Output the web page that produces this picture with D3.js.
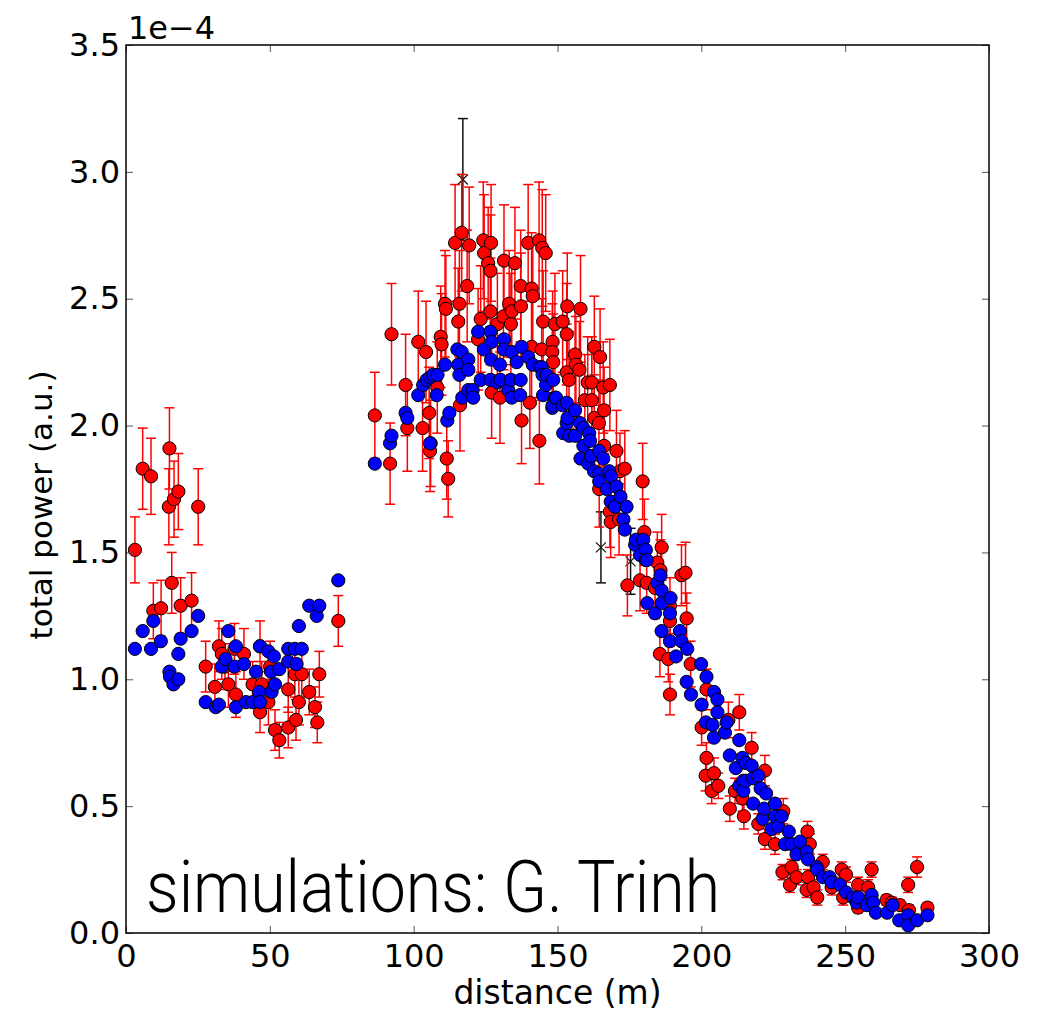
<!DOCTYPE html>
<html>
<head>
<meta charset="utf-8">
<script src="https://d3js.org/d3.v7.min.js"></script>
<style>
  body { margin: 0; background: #fff; }
  text { font-family: "DejaVu Sans", sans-serif; }
</style>
</head>
<body>
<svg></svg>
<script>
// values in units of 1e-4 ; red = [distance, power, error]
const redPoints = [
  [3.1,1.51,0.13],[5.8,1.83,0.16],[8.7,1.80,0.15],[9.5,1.27,0.11],[12.2,1.28,0.11],
  [14.9,1.68,0.15],[15.1,1.91,0.16],[15.9,1.38,0.12],[16.7,1.71,0.15],[18.2,1.74,0.15],
  [19.0,1.29,0.11],[22.8,1.31,0.11],[25.1,1.68,0.15],[27.7,1.05,0.10],[30.9,0.97,0.09],
  [32.3,1.13,0.10],[33.3,1.10,0.10],[34.4,1.05,0.09],[35.6,0.98,0.09],[37.7,1.12,0.10],
  [38.2,0.94,0.09],[41.0,1.10,0.10],[44.0,0.98,0.09],[46.6,1.13,0.10],[47.2,0.98,0.09],
  [46.6,0.87,0.08],[49.5,0.91,0.09],[50.1,1.05,0.10],[51.8,0.80,0.08],[53.3,0.76,0.07],
  [56.4,0.81,0.08],[56.4,0.96,0.09],[58.7,1.02,0.09],[59.1,0.84,0.08],[60.1,0.91,0.09],
  [61.1,1.02,0.09],[63.7,0.95,0.09],[65.7,0.89,0.08],[66.5,0.83,0.08],[67.2,1.02,0.09],
  [73.8,1.23,0.10],
  [86.5,2.04,0.17],[91.8,1.85,0.16],[92.3,2.36,0.20],[97.2,2.16,0.20],[97.8,1.99,0.17],
  [101.6,2.33,0.20],[103.1,1.99,0.17],[104.3,2.29,0.20],[105.4,2.05,0.18],[105.7,1.90,0.16],
  [105.9,1.93,0.17],[108.2,2.15,0.18],[109.4,2.35,0.20],[109.7,2.32,0.20],[110.9,2.48,0.21],
  [111.2,2.46,0.21],[111.5,1.87,0.16],[112.0,1.79,0.15],[114.4,2.72,0.23],[115.5,2.41,0.21],
  [115.9,2.48,0.21],[116.1,2.08,0.18],[116.7,2.76,0.23],[118.6,2.55,0.22],[119.3,2.71,0.23],
  [122.4,2.34,0.20],[123.3,2.42,0.21],[124.2,2.73,0.23],[124.5,2.68,0.23],[125.9,2.64,0.22],
  [126.7,2.61,0.22],[126.7,2.45,0.21],[126.9,2.72,0.23],[127.1,2.13,0.18],[129.1,2.40,0.20],
  [130.0,2.11,0.18],[131.2,2.43,0.21],[131.4,2.65,0.22],[133.2,2.48,0.21],[133.8,2.40,0.20],
  [134.1,2.45,0.21],[135.2,2.64,0.22],[137.2,2.55,0.22],[137.3,2.47,0.21],[137.5,2.02,0.17],
  [139.8,2.72,0.23],[140.4,2.09,0.18],[141.0,2.54,0.22],[141.0,2.31,0.20],[141.4,2.51,0.21],
  [143.6,2.73,0.23],[143.7,1.94,0.17],[144.5,2.30,0.20],[144.7,2.70,0.23],[145.0,2.41,0.20],
  [145.9,2.68,0.23],[148.3,2.33,0.20],[148.2,2.29,0.19],[148.5,2.25,0.19],[149.1,2.40,0.20],
  [151.8,2.41,0.20],[153.2,2.36,0.20],[153.4,2.47,0.21],[153.2,2.21,0.19],[154.0,2.18,0.19],
  [156.1,2.28,0.19],[156.4,2.24,0.19],[157.6,2.22,0.19],[158.0,2.46,0.21],[159.5,2.10,0.18],
  [160.5,2.17,0.18],[161.9,2.17,0.18],[161.9,2.10,0.18],[162.8,2.31,0.20],[162.8,2.03,0.17],
  [164.4,2.01,0.17],[164.5,1.75,0.15],[164.8,2.27,0.19],[165.9,2.15,0.18],[166.2,2.06,0.17],
  [166.2,1.92,0.16],[168.2,2.16,0.18],[168.2,1.66,0.14],[168.5,1.62,0.14],[170.5,1.90,0.16],
  [171.4,1.63,0.14],[171.7,1.82,0.15],[173.4,1.83,0.15],[174.3,1.37,0.12],[178.7,1.39,0.12],
  [179.6,1.78,0.15],[180.2,1.58,0.13],[181.0,1.38,0.12],[183.9,1.36,0.12],[184.7,1.46,0.12],
  [185.6,1.10,0.09],[185.8,1.43,0.12],[186.2,1.52,0.13],[188.5,1.08,0.09],[189.1,1.29,0.11],
  [189.1,1.23,0.10],[189.1,0.94,0.08],[193.1,1.41,0.12],[194.5,1.42,0.12],[194.9,1.24,0.10],
  [196.3,1.06,0.09],[200.1,0.81,0.07],[201.5,0.62,0.06],[201.8,0.96,0.08],[201.8,0.69,0.06],
  [203.6,0.56,0.05],[204.4,0.63,0.06],[205.9,0.58,0.05],[209.4,0.84,0.07],[209.9,0.49,0.05],
  [211.7,0.56,0.05],[213.2,0.87,0.07],[214.3,0.53,0.05],[214.8,0.46,0.05],[217.5,0.73,0.06],
  [219.8,0.43,0.04],[222.1,0.64,0.06],[222.1,0.37,0.04],[225.6,0.35,0.04],[228.2,0.24,0.03],
  [228.5,0.48,0.05],[230.8,0.19,0.03],[231.4,0.26,0.03],[233.1,0.22,0.03],[236.6,0.17,0.03],
  [236.9,0.40,0.04],[237.1,0.22,0.03],[237.7,0.35,0.04],[239.0,0.18,0.03],[240.3,0.14,0.03],
  [242.2,0.28,0.03],[245.3,0.18,0.03],[248.8,0.25,0.03],[249.3,0.14,0.03],[250.3,0.23,0.03],
  [254.5,0.19,0.03],[254.5,0.10,0.02],[258.0,0.18,0.03],[259.2,0.25,0.03],[264.4,0.13,0.02],
  [266.2,0.12,0.02],[269.0,0.11,0.02],[271.9,0.19,0.03],[272.2,0.09,0.02],[275.0,0.26,0.04],
  [278.6,0.10,0.02]
];

const bluePoints = [
  [3.1,1.12],[5.8,1.19],[8.7,1.12],[9.5,1.23],[12.1,1.15],[15.1,1.03],[15.3,1.01],[16.5,0.98],
  [18.2,1.00],[18.2,1.10],[19.0,1.16],[22.8,1.19],[25.1,1.25],[27.7,0.91],[31.2,0.89],[32.3,0.90],
  [33.3,1.05],[34.6,1.08],[35.6,1.19],[37.7,1.05],[38.2,1.13],[38.2,0.89],[41.0,1.06],[41.7,0.91],
  [44.0,0.91],[45.2,1.03],[46.3,0.95],[46.6,1.13],[46.6,0.91],[49.5,1.11],[50.4,1.03],[50.6,0.95],
  [51.4,1.09],[51.8,0.98],[53.3,1.04],[56.4,1.12],[56.4,1.07],[58.7,1.12],[59.3,1.06],[60.1,1.21],
  [61.1,1.12],[63.7,1.29],[66.3,1.25],[67.2,1.29],[73.8,1.39],
  [86.5,1.85],[91.8,1.93],[92.3,1.96],[97.2,2.05],[97.8,2.03],[101.6,2.12],[103.3,2.16],[104.5,2.18],
  [105.7,2.19],[105.7,1.93],[106.8,2.20],[108.0,2.12],[108.3,2.20],[110.9,2.24],[111.7,2.02],[112.4,2.05],
  [115.2,2.30],[115.5,2.24],[115.9,2.20],[116.7,2.29],[116.9,2.11],[119.0,2.26],[119.0,2.22],[119.0,2.14],
  [120.5,2.14],[120.7,2.11],[122.4,2.37],[123.3,2.18],[124.4,2.30],[126.7,2.37],[126.7,2.18],[126.9,2.26],
  [127.1,2.33],[129.1,2.17],[130.0,2.24],[130.2,2.18],[131.4,2.34],[131.4,2.30],[132.9,2.14],[133.8,2.18],
  [134.1,2.29],[134.1,2.11],[135.8,2.25],[137.0,2.12],[137.2,2.18],[137.5,2.31],[139.8,2.27],[141.4,2.24],
  [143.9,2.23],[144.5,2.23],[144.8,2.20],[145.0,2.12],[146.0,2.16],[146.2,2.20],[148.2,2.07],[148.3,2.08],
  [148.5,2.18],[149.1,2.11],[149.5,2.11],[151.8,2.08],[152.0,1.97],[153.2,2.09],[153.2,2.01],[153.5,2.03],
  [154.1,1.96],[156.1,2.06],[156.1,1.96],[157.8,2.01],[158.0,1.87],[159.0,1.99],[159.0,1.92],[160.7,1.85],
  [161.0,1.97],[161.3,1.94],[161.6,1.88],[162.7,1.82],[164.5,1.90],[164.5,1.81],[164.5,1.78],[165.9,1.87],
  [167.1,1.75],[168.0,1.82],[168.5,1.70],[168.6,1.80],[170.0,1.68],[170.5,1.76],[171.9,1.72],[172.9,1.63],
  [173.4,1.59],[174.0,1.68],[177.0,1.53],[177.3,1.55],[178.7,1.49],[179.8,1.55],[180.7,1.51],[180.7,1.47],
  [181.0,1.47],[181.2,1.30],[183.9,1.26],[184.7,1.38],[185.8,1.41],[186.2,1.35],[186.2,1.30],[186.2,1.19],
  [189.1,1.26],[189.1,1.15],[189.3,1.32],[191.2,1.09],[192.6,1.19],[193.1,1.15],[194.9,0.99],[195.1,1.12],
  [196.4,0.94],[199.9,1.06],[200.1,0.90],[201.6,0.83],[201.8,1.01],[203.9,0.82],[204.4,0.95],[204.4,0.77],
  [205.6,0.92],[205.6,0.87],[208.2,0.79],[208.8,0.83],[209.9,0.70],[212.0,0.65],[213.2,0.76],[213.2,0.58],
  [214.3,0.69],[214.6,0.60],[214.6,0.56],[215.5,0.67],[215.5,0.60],[217.5,0.66],[218.0,0.61],[218.0,0.51],
  [219.8,0.62],[220.6,0.57],[221.3,0.45],[221.8,0.49],[222.5,0.55],[224.4,0.41],[225.6,0.51],[225.6,0.46],
  [226.7,0.42],[227.9,0.46],[229.1,0.35],[230.4,0.40],[231.4,0.35],[233.1,0.31],[234.3,0.36],[236.6,0.32],
  [237.1,0.29],[240.1,0.26],[240.3,0.25],[242.3,0.22],[244.6,0.22],[245.3,0.20],[248.2,0.19],[250.3,0.16],
  [252.8,0.14],[254.0,0.12],[254.5,0.14],[257.5,0.11],[259.2,0.15],[259.7,0.12],[260.7,0.08],[264.6,0.08],
  [266.5,0.11],[268.8,0.05],[271.9,0.07],[271.9,0.03],[275.0,0.05],[278.6,0.07]
];

// black 'x' markers with error bars
const blackPoints = [[117.1,2.97,0.24],[165.1,1.52,0.14],[175.4,1.465,0.13]];

const xTicks = [0, 50, 100, 150, 200, 250, 300];
const yTicks = [0, 0.5, 1.0, 1.5, 2.0, 2.5, 3.0, 3.5];

const width = 1052;
const height = 1011;
const plotLeft = 126;
const plotRight = 989;
const plotTop = 45;
const plotBottom = 933;

const svg = d3.select("svg").attr("width", width).attr("height", height);

const xScale = d3.scaleLinear().domain([0, 300]).range([plotLeft, plotRight]);
const yScale = d3.scaleLinear().domain([0, 3.5]).range([plotBottom, plotTop]);

const drawErrorBars = (g, data, color, cap) => {
  const bars = g.selectAll(null).data(data).enter().append("g")
    .attr("stroke", color).attr("stroke-width", 1.5);
  bars.append("line")
    .attr("x1", (d) => xScale(d[0])).attr("x2", (d) => xScale(d[0]))
    .attr("y1", (d) => yScale(d[1] - d[2])).attr("y2", (d) => yScale(d[1] + d[2]));
  bars.append("line")
    .attr("x1", (d) => xScale(d[0]) - cap).attr("x2", (d) => xScale(d[0]) + cap)
    .attr("y1", (d) => yScale(d[1] + d[2])).attr("y2", (d) => yScale(d[1] + d[2]));
  bars.append("line")
    .attr("x1", (d) => xScale(d[0]) - cap).attr("x2", (d) => xScale(d[0]) + cap)
    .attr("y1", (d) => yScale(d[1] - d[2])).attr("y2", (d) => yScale(d[1] - d[2]));
};

const plot = svg.append("g");

// black reference points
drawErrorBars(plot, blackPoints, "#111", 5);
plot.selectAll(".xmark").data(blackPoints).enter().append("path")
  .attr("class", "xmark")
  .attr("d", (d) => {
    const cx = xScale(d[0]), cy = yScale(d[1]), s = 5;
    return `M${cx - s},${cy - s}L${cx + s},${cy + s}M${cx - s},${cy + s}L${cx + s},${cy - s}`;
  })
  .attr("stroke", "#111").attr("stroke-width", 1.2);

// red with error bars
drawErrorBars(plot, redPoints, "#ff0000", 5);
plot.selectAll(".red").data(redPoints).enter().append("circle")
  .attr("class", "red")
  .attr("cx", (d) => xScale(d[0])).attr("cy", (d) => yScale(d[1]))
  .attr("r", 6.6).attr("fill", "#ff0000").attr("stroke", "#000").attr("stroke-width", 1);

// blue
plot.selectAll(".blue").data(bluePoints).enter().append("circle")
  .attr("class", "blue")
  .attr("cx", (d) => xScale(d[0])).attr("cy", (d) => yScale(d[1]))
  .attr("r", 6.6).attr("fill", "#0000ff").attr("stroke", "#000").attr("stroke-width", 1);

// axes with inward ticks on all four sides
const styleAxis = (g) => {
  g.select(".domain").remove();
  g.selectAll(".tick line").attr("stroke", "#555").attr("stroke-width", 1);
  g.selectAll(".tick text").attr("font-size", 32).attr("fill", "#000")
    .attr("font-family", "DejaVu Sans, sans-serif");
};

svg.append("g")
  .attr("transform", `translate(0, ${plotBottom})`)
  .call(d3.axisBottom(xScale).tickValues(xTicks).tickFormat(d3.format("d"))
    .tickSizeInner(-7).tickSizeOuter(0).tickPadding(11))
  .call(styleAxis);

svg.append("g")
  .attr("transform", `translate(0, ${plotTop})`)
  .call(d3.axisTop(xScale).tickValues(xTicks).tickFormat("")
    .tickSizeInner(-7).tickSizeOuter(0))
  .call(styleAxis);

svg.append("g")
  .attr("transform", `translate(${plotLeft}, 0)`)
  .call(d3.axisLeft(yScale).tickValues(yTicks).tickFormat(d3.format(".1f"))
    .tickSizeInner(-7).tickSizeOuter(0).tickPadding(6))
  .call(styleAxis);

svg.append("g")
  .attr("transform", `translate(${plotRight}, 0)`)
  .call(d3.axisRight(yScale).tickValues(yTicks).tickFormat("")
    .tickSizeInner(-7).tickSizeOuter(0))
  .call(styleAxis);

// frame
svg.append("rect")
  .attr("x", plotLeft).attr("y", plotTop)
  .attr("width", plotRight - plotLeft).attr("height", plotBottom - plotTop)
  .attr("fill", "none").attr("stroke", "#000").attr("stroke-width", 1.5);

// labels
svg.append("text")
  .attr("x", 128).attr("y", 39)
  .attr("font-size", 32)
  .text("1e\u22124");

svg.append("text")
  .attr("x", (plotLeft + plotRight) / 2).attr("y", 1004)
  .attr("text-anchor", "middle")
  .attr("font-size", 33)
  .text("distance (m)");

svg.append("text")
  .attr("transform", "translate(52, 505) rotate(-90)")
  .attr("text-anchor", "middle")
  .attr("font-size", 31)
  .text("total power (a.u.)");

svg.append("text")
  .attr("x", 146).attr("y", 912)
  .attr("font-size", 72)
  .attr("font-weight", 300)
  .style("font-family", "Roboto, 'Liberation Sans', sans-serif")
  .attr("textLength", 574)
  .attr("lengthAdjust", "spacingAndGlyphs")
  .text("simulations: G. Trinh");
</script>
</body>
</html>
